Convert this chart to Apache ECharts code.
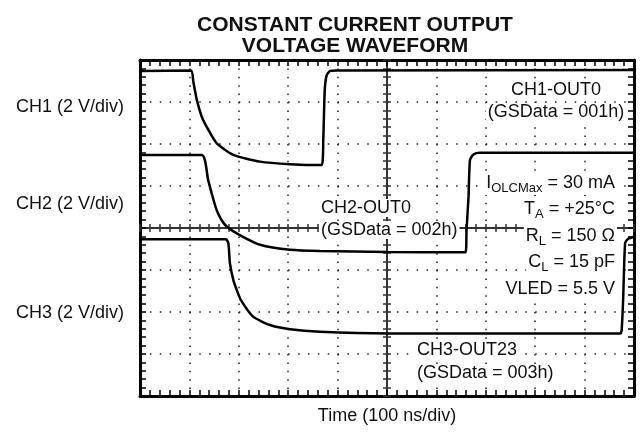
<!DOCTYPE html>
<html lang="en">
<head>
<meta charset="utf-8" />
<title>Constant Current Output Voltage Waveform</title>
<script src="https://cdn.jsdelivr.net/npm/echarts@6/dist/echarts.min.js"></script>
<style>
  html, body { margin: 0; background: #fff; }
  #chart { width: 642px; height: 433px; }
</style>
</head>
<body>
<div id="chart"></div>
<script>
// scope traces, in screen divisions: [time div, voltage div from bottom]
var ch1Points = [
  [0, 7.74], [1.03, 7.75], [1.08, 7.48], [1.15, 7.05], [1.25, 6.65], [1.35, 6.41],
  [1.55, 6.02], [1.89, 5.74], [2.43, 5.58], [3.04, 5.52], [3.68, 5.50],
  [3.71, 6.10], [3.74, 7.29], [3.78, 7.64], [3.85, 7.74], [3.98, 7.75], [10, 7.76]
];
var ch2Points = [
  [0, 5.74], [1.25, 5.74], [1.38, 5.14], [1.45, 4.83], [1.55, 4.43], [1.65, 4.19],
  [1.76, 4.03], [2.02, 3.83], [2.43, 3.60], [3.04, 3.48], [3.64, 3.45], [5.0, 3.43],
  [6.59, 3.42], [6.61, 3.95], [6.65, 4.74], [6.68, 5.62], [6.75, 5.75], [6.88, 5.79], [10, 5.79]
];
var ch3Points = [
  [0, 3.73], [1.74, 3.73], [1.79, 3.63], [1.82, 3.16], [1.89, 2.76], [1.96, 2.52],
  [2.04, 2.29], [2.29, 1.89], [2.63, 1.69], [3.04, 1.59], [3.64, 1.53], [5.02, 1.49],
  [9.72, 1.49], [9.75, 1.57], [9.78, 2.29], [9.82, 3.64], [9.88, 3.74], [10, 3.79]
];

var timeDivs = 10;
var voltDivs = 8;

var channelLabels = ['CH1 (2 V/div)', 'CH2 (2 V/div)', 'CH3 (2 V/div)'];
var conditions = [
  '{m|I}{s|OLCMax}{m| = 30 mA}',
  '{m|T}{s|A}{m| = +25°C}',
  '{m|R}{s|L}{m| = 150 Ω}',
  '{m|C}{s|L}{m| = 15 pF}',
  '{m|VLED = 5.5 V}'
];

var chart = echarts.init(document.getElementById('chart'));
var font = '"Liberation Sans", Arial, Helvetica, sans-serif';

var gridBox = { left: 140, top: 60, width: 494, height: 336 };

function frameAxis(pos, max, extra) {
  var a = {
    gridIndex: 0, type: 'value', position: pos, min: 0, max: max, interval: 1,
    axisLine: { show: true, onZero: false, lineStyle: { color: '#000', width: 3 } },
    axisTick: { show: true, inside: true, length: 6, lineStyle: { color: '#000', width: 1.5 } },
    minorTick: { show: true, splitNumber: 5, length: 6, lineStyle: { color: '#000', width: 1.5 } },
    axisLabel: { show: false },
    splitLine: { show: false }
  };
  return Object.assign(a, extra || {});
}

// solid centre cross with ticks on both sides
function centerAxis(pos, half) {
  return {
    gridIndex: 1, type: 'value', position: pos, min: -half, max: half, interval: 1,
    axisLine: { show: true, onZero: true, lineStyle: { color: '#333', width: 2 } },
    axisTick: { show: true, inside: false, length: 4, lineStyle: { color: '#333', width: 1.5 } },
    minorTick: { show: true, splitNumber: 5, length: 4, lineStyle: { color: '#333', width: 1.5 } },
    axisLabel: { show: false },
    splitLine: { show: false }
  };
}

function trace(points) {
  return {
    type: 'line', xAxisIndex: 0, yAxisIndex: 0,
    data: points, showSymbol: false, smooth: 0.2,
    lineStyle: { color: '#000', width: 2.5 }
  };
}

function txt(text, x, y, align, bg) {
  var style = {
    text: text, fill: '#111', font: '18px ' + font,
    align: align || 'left', verticalAlign: 'middle'
  };
  if (bg) {
    style.backgroundColor = '#fff';
    style.padding = [0, 2];
  }
  return { type: 'text', x: x, y: y, z: 1, silent: true, style: style };
}

var richCond = {
  m: { fontSize: 18, fontFamily: font, color: '#111', lineHeight: 24 },
  s: { fontSize: 13, fontFamily: font, color: '#111', lineHeight: 12, verticalAlign: 'bottom' }
};

var graphics = [
  txt(channelLabels[0], 124, 107, 'right'),
  txt(channelLabels[1], 124, 204, 'right'),
  txt(channelLabels[2], 124, 313, 'right'),
  txt('CH1-OUT0', 556, 90, 'center', true),
  txt('(GSData = 001h)', 556, 112, 'center', true),
  txt('CH2-OUT0', 319, 208, 'left', true),
  txt('(GSData = 002h)', 319, 230, 'left', true),
  txt('CH3-OUT23', 415, 350, 'left', true),
  txt('(GSData = 003h)', 415, 373, 'left', true)
];
var condY = [183, 209, 236, 262, 289];
conditions.forEach(function (c, i) {
  graphics.push({
    type: 'text', x: 617, y: condY[i], z: 1, silent: true,
    style: {
      text: c, rich: richCond, align: 'right', verticalAlign: 'middle', fill: '#111',
      backgroundColor: '#fff', padding: [0, 2]
    }
  });
});

var option = {
  animation: false,
  backgroundColor: '#fff',
  title: {
    text: 'CONSTANT CURRENT OUTPUT\nVOLTAGE WAVEFORM',
    left: 350, top: 9, textAlign: 'center',
    textStyle: { fontFamily: font, fontWeight: 'bold', fontSize: 21, lineHeight: 21.5, color: '#111' }
  },
  grid: [
    Object.assign({ show: false }, gridBox),
    Object.assign({ show: false }, gridBox)
  ],
  xAxis: [
    frameAxis('bottom', timeDivs, {
      name: 'Time (100 ns/div)', nameLocation: 'middle', nameGap: 11,
      nameTextStyle: { fontFamily: font, fontSize: 18, color: '#111' },
      splitLine: { show: true, lineStyle: { color: '#222', width: 1.5, type: [1.5, 6.9] } }
    }),
    frameAxis('top', timeDivs),
    centerAxis('bottom', timeDivs / 2),
    centerAxis('top', timeDivs / 2)
  ],
  yAxis: [
    frameAxis('left', voltDivs, {
      splitLine: { show: true, lineStyle: { color: '#222', width: 1.5, type: [1.5, 8.38] } }
    }),
    frameAxis('right', voltDivs),
    centerAxis('left', voltDivs / 2),
    centerAxis('right', voltDivs / 2)
  ],
  series: [trace(ch1Points), trace(ch2Points), trace(ch3Points)],
  graphic: graphics
};

chart.setOption(option);
</script>
</body>
</html>
